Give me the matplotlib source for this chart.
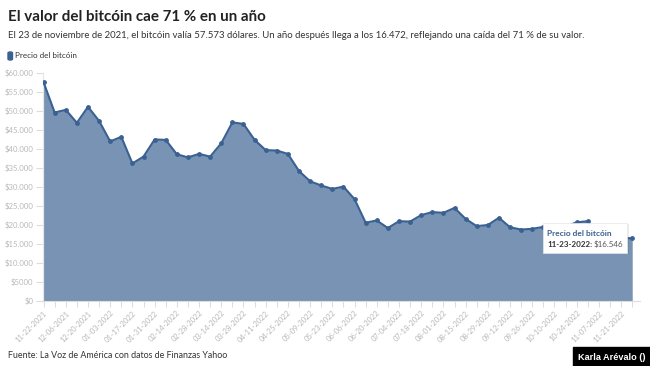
import matplotlib
matplotlib.use("Agg")
import matplotlib.pyplot as plt
from matplotlib.patches import Rectangle, FancyBboxPatch
from matplotlib.ticker import FuncFormatter

plt.rcParams['font.family'] = ['Lato', 'DejaVu Sans']

# weekly dates (Yahoo) plus the last day
dates = [
    "11-22-2021", "11-29-2021", "12-06-2021", "12-13-2021", "12-20-2021", "12-27-2021",
    "01-03-2022", "01-10-2022", "01-17-2022", "01-24-2022", "01-31-2022",
    "02-07-2022", "02-14-2022", "02-21-2022", "02-28-2022",
    "03-07-2022", "03-14-2022", "03-21-2022", "03-28-2022",
    "04-04-2022", "04-11-2022", "04-18-2022", "04-25-2022",
    "05-02-2022", "05-09-2022", "05-16-2022", "05-23-2022", "05-30-2022",
    "06-06-2022", "06-13-2022", "06-20-2022", "06-27-2022",
    "07-04-2022", "07-11-2022", "07-18-2022", "07-25-2022",
    "08-01-2022", "08-08-2022", "08-15-2022", "08-22-2022", "08-29-2022",
    "09-05-2022", "09-12-2022", "09-19-2022", "09-26-2022",
    "10-03-2022", "10-10-2022", "10-17-2022", "10-24-2022", "10-31-2022",
    "11-07-2022", "11-14-2022", "11-21-2022", "11-23-2022",
]

prices = [
    57573, 49600, 50300, 46900, 51100, 47400,
    42000, 43200, 36200, 38000, 42500,
    42400, 38600, 37800, 38700,
    38000, 41500, 47000, 46600,
    42400, 39700, 39600, 38700,
    34200, 31500, 30400, 29500, 30100,
    26800, 20600, 21200, 19200,
    21000, 20900, 22600, 23400,
    23200, 24500, 21600, 19700, 20000,
    21900, 19400, 18800, 19000,
    19500, 19100, 19600, 20700, 21000,
    16300, 16300, 16500, 16546,
]

tick_labels = dates[0:53:2]

line_col = "#3a6192"
fill_col = "#7893b3"
grey = "#b8b8b8"

fig = plt.figure(figsize=(6.5, 3.66), dpi=100)
ax = fig.add_axes([43 / 650, 65 / 366, 597 / 650, 228 / 366])

x = list(range(len(prices)))
ax.fill_between(x, prices, 0, color=fill_col, lw=0, zorder=2)
ax.plot(x, prices, color=line_col, lw=1.5, zorder=3)
ax.scatter(x, prices, s=6, color=line_col, zorder=4)

ax.set_xlim(-0.05, 53.7)
ax.set_ylim(0, 60000)
ax.set_yticks(range(0, 60001, 5000))


def money(v, pos):
    v = int(v)
    if v >= 10000:
        return "$" + f"{v:,}".replace(",", ".")
    return f"${v}"


ax.yaxis.set_major_formatter(FuncFormatter(money))
ax.set_xticks(range(0, 53, 2))
ax.set_xticklabels(tick_labels, rotation=45, ha="right", rotation_mode="anchor")
ax.set_xticks(range(0, 54), minor=True)

ax.tick_params(axis="y", colors="#dddddd", labelcolor=grey, labelsize=5.6, length=5, width=0.8, pad=2)
ax.tick_params(axis="x", which="both", colors="#dddddd", labelcolor=grey, labelsize=5.5, length=4, width=0.8, pad=2)

for s in ["top", "right"]:
    ax.spines[s].set_visible(False)
ax.spines["left"].set_color("#e6e6e6")
ax.spines["bottom"].set_color("#dddddd")
ax.spines["left"].set_linewidth(0.8)
ax.spines["bottom"].set_linewidth(0.8)

# tooltip for the last point
ax.add_patch(Rectangle((45.08, 12350), 7.6, 7900, facecolor="#000000", alpha=0.08, lw=0, zorder=5))
ax.add_patch(Rectangle((44.97, 12550), 7.57, 7900, facecolor="white", edgecolor="#e8e8e8",
                       lw=0.5, zorder=6))
ax.text(45.35, 17800, "Precio del bitcóin", color=line_col, fontsize=6.0, weight="bold",
        va="center", zorder=7)
t2 = ax.text(45.35, 14900, dates[-1] + ":", color="#333333", fontsize=5.8, weight="bold",
             va="center", zorder=7)
ax.annotate("$16.546", xy=(1, 0.5), xycoords=t2, xytext=(1.2, 0), textcoords="offset points",
            va="center", ha="left", color="#555555", fontsize=5.8, zorder=7)

# header
fig.text(8 / 650, 1 - 17 / 366, "El valor del bitcóin cae 71 % en un año", fontsize=10.9,
         weight="bold", color="#222222", va="center")
fig.text(8 / 650, 1 - 35 / 366,
         "El 23 de noviembre de 2021, el bitcóin valía 57.573 dólares. Un año después llega a los 16.472, "
         "reflejando una caída del 71 % de su valor.",
         fontsize=6.95, color="#333333", va="center")
fig.patches.append(FancyBboxPatch((8 / 650, 1 - 60 / 366), 4.5 / 650, 8 / 366,
                                  boxstyle="round,pad=0,rounding_size=0.003",
                                  transform=fig.transFigure, color=line_col))
fig.text(15 / 650, 1 - 56 / 366, "Precio del bitcóin", fontsize=5.8, color="#333333", va="center")

# footer
fig.text(8 / 650, 1 - 356 / 366, "Fuente: La Voz de América con datos de Finanzas Yahoo",
         fontsize=6.4, color="#333333", va="center")
fig.patches.append(Rectangle((573 / 650, 0), 77 / 650, 19 / 366, transform=fig.transFigure,
                             color="black"))
fig.text(578 / 650, 1 - 357 / 366, "Karla Arévalo ()", fontsize=6.6, color="white",
         weight="bold", va="center", family=["Liberation Sans", "DejaVu Sans"])

fig.savefig("out.png", dpi=100)
